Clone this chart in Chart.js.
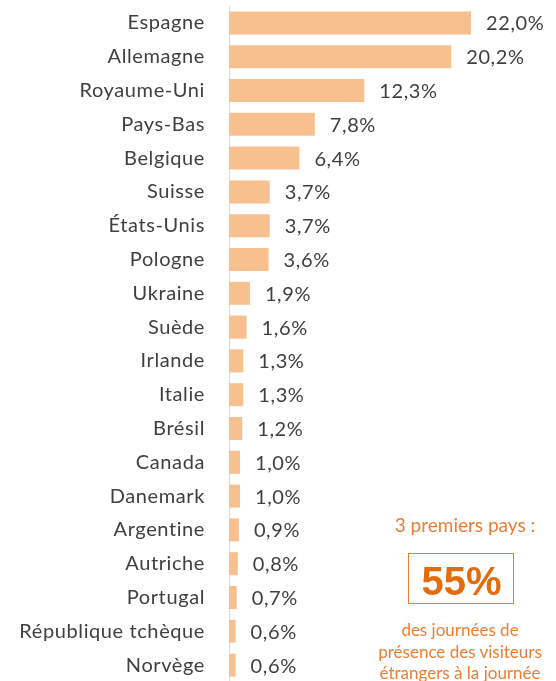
<!DOCTYPE html>
<html>
<head>
<meta charset="utf-8">
<script src="https://cdn.jsdelivr.net/npm/chart.js@4/dist/chart.umd.min.js"></script>
<style>
  html, body { margin: 0; padding: 0; background: #fff; width: 556px; height: 681px; overflow: hidden; }
  #c { position: absolute; left: 0; top: 0; }
  .note { position: absolute; font-family: Lato, "Open Sans", sans-serif; color: #ED7D31; text-align: center; }
  #n1 { left: 375px; width: 180px; top: 513px; font-size: 19px; }
  #box { position: absolute; left: 408px; top: 553px; width: 104px; height: 49px; border: 1.5px solid #ED7D31; }
  #big { position: absolute; left: 408px; width: 107px; top: 558px; font-family: "Liberation Sans", Arial, sans-serif; font-weight: bold; font-size: 40px; color: #E46C0A; text-align: center; line-height: 46px; }
  #n2 { left: 369px; width: 182px; top: 619px; font-size: 17px; line-height: 21.5px; }
</style>
</head>
<body>
<canvas id="c" width="556" height="688"></canvas>
<div class="note" id="n1">3 premiers pays :</div>
<div id="box"></div>
<div id="big">55%</div>
<div class="note" id="n2">des journées de<br>présence des visiteurs<br>étrangers à la journée</div>
<script>
const categories = ["Espagne","Allemagne","Royaume-Uni","Pays-Bas","Belgique","Suisse","États-Unis","Pologne","Ukraine","Suède","Irlande","Italie","Brésil","Canada","Danemark","Argentine","Autriche","Portugal","République tchèque","Norvège"];
const values = [22.0,20.2,12.3,7.8,6.4,3.7,3.7,3.6,1.9,1.6,1.3,1.3,1.2,1.0,1.0,0.9,0.8,0.7,0.6,0.6];
const valueLabels = values.map(v => v.toFixed(1).replace('.', ',') + '%');

const spacingPlugin = {
  id: 'spacing',
  beforeDraw(chart) { chart.ctx.letterSpacing = '0.6px'; }
};
const labelPlugin = {
  id: 'valueLabels',
  afterDatasetsDraw(chart) {
    const ctx = chart.ctx;
    const meta = chart.getDatasetMeta(0);
    ctx.save();
    ctx.font = '20px Lato, "Open Sans", sans-serif';
    ctx.fillStyle = '#404040';
    ctx.textAlign = 'left';
    ctx.textBaseline = 'middle';
    meta.data.forEach((bar, i) => {
      ctx.fillText(valueLabels[i], bar.x + 15, bar.y + 1);
    });
    ctx.restore();
  }
};

new Chart(document.getElementById('c'), {
  type: 'bar',
  data: {
    labels: categories,
    datasets: [{
      data: values,
      backgroundColor: '#F8C08E',
      borderWidth: 0,
      barPercentage: 0.68,
      categoryPercentage: 1
    }]
  },
  options: {
    indexAxis: 'y',
    responsive: false,
    animation: false,
    devicePixelRatio: 1,
    layout: { padding: { top: 6, bottom: 2, left: 0, right: 19 } },
    plugins: { legend: { display: false }, tooltip: { enabled: false } },
    scales: {
      x: { display: false, min: 0, max: 28 },
      y: {
        afterFit(s) { s.width = 229; },
        grid: { display: true, color: 'rgba(0,0,0,0)', drawTicks: true, tickLength: 24 },
        border: { display: true, color: '#D9D9D9', width: 1 },
        ticks: { color: '#404040', padding: 0, font: { family: 'Lato, "Open Sans", sans-serif', size: 20, lineHeight: 0.6 } }
      }
    }
  },
  plugins: [spacingPlugin, labelPlugin]
});
</script>
</body>
</html>
